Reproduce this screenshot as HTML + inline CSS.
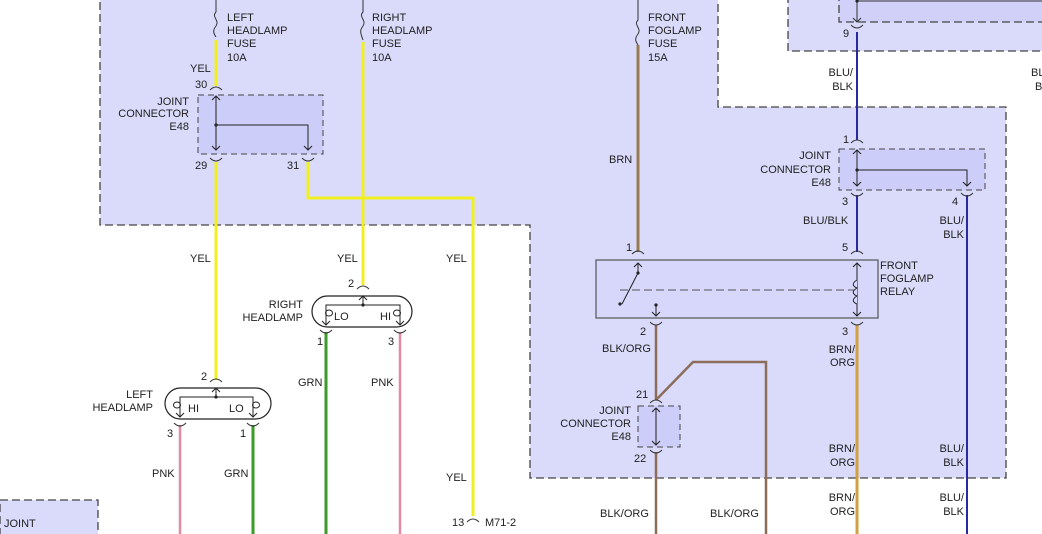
<!DOCTYPE html>
<html><head><meta charset="utf-8"><style>
html,body{margin:0;padding:0;background:#fff;}
svg{display:block;}
text{font-family:"Liberation Sans",sans-serif;font-size:11px;fill:#222;}
</style></head><body>
<svg width="1042" height="534" viewBox="0 0 1042 534" xmlns="http://www.w3.org/2000/svg">
<polygon points="100,-2 718,-2 718,107 1006,107 1006,478 530,478 530,225 100,225" fill="#dadbfa" stroke="#444" stroke-width="1.3" stroke-dasharray="8,4"/>
<rect x="788" y="-5" width="260" height="56" fill="#dadbfa" stroke="#444" stroke-width="1.3" stroke-dasharray="8,4"/>
<rect x="839" y="-5" width="210" height="27" fill="#d0d0f8" stroke="#444" stroke-width="1.3" stroke-dasharray="8,4"/>
<rect x="0" y="500" width="98" height="40" fill="#dadbfa" stroke="#444" stroke-width="1.3" stroke-dasharray="8,4"/>
<rect x="198" y="95" width="125" height="59" fill="#cccdf8" stroke="#444" stroke-dasharray="6,4"/>
<rect x="839" y="149" width="146" height="41" fill="#cccdf8" stroke="#444" stroke-dasharray="6,4"/>
<rect x="638" y="406" width="42" height="41" fill="#cccdf8" stroke="#444" stroke-dasharray="6,4"/>
<rect x="596" y="260" width="282" height="58" fill="#d6d7fa" stroke="#555" stroke-width="1.2"/>

<g fill="none" stroke-linecap="butt">
<path d="M216,0 V12 M216,12 c-5,5 4,8 0,14 c-4,5 -2,8 0,11" stroke="#333" stroke-width="1"/>
<line x1="216" y1="40" x2="216" y2="86" stroke="#f0f020" stroke-width="3"/>
<line x1="216" y1="162" x2="216" y2="380" stroke="#f0f020" stroke-width="3"/>
<path d="M308,162 V198 H473 V516" stroke="#f0f020" stroke-width="3"/>
<path d="M363,0 V12 c-5,5 4,8 0,14 c-4,5 -2,8 0,14" stroke="#333" stroke-width="1"/>
<line x1="363" y1="42" x2="363" y2="285" stroke="#f0f020" stroke-width="3"/>
<path d="M216,96 V150 M216,125 H308 V150" stroke="#222" stroke-width="1"/>
<path d="M212,100 l4,-4 4,4 M212,146 l4,4 4,-4 M304,146 l4,4 4,-4" stroke="#222"/>
<line x1="326" y1="332" x2="326" y2="534" stroke="#3a9a2a" stroke-width="3"/>
<line x1="400" y1="332" x2="400" y2="534" stroke="#e48aa0" stroke-width="2.5"/>
<line x1="180" y1="425" x2="180" y2="534" stroke="#e48aa0" stroke-width="2.5"/>
<line x1="253" y1="425" x2="253" y2="534" stroke="#3a9a2a" stroke-width="3"/>
<rect x="312" y="296" width="100" height="31" rx="15.5" stroke="#222" stroke-width="1.2"/>
<path d="M326,325 V305 H400 V325 M363,305 V296" stroke="#222"/>
<path d="M322,321 l4,4 4,-4 M396,321 l4,4 4,-4 M359,300 l4,-4 4,4" stroke="#222"/>
<ellipse cx="329" cy="313" rx="3.5" ry="3" stroke="#222"/><ellipse cx="397" cy="313" rx="3.5" ry="3" stroke="#222"/>
<rect x="165" y="388" width="106" height="31" rx="15.5" stroke="#222" stroke-width="1.2"/>
<path d="M180,417 V397 H253 V417 M216,397 V388" stroke="#222"/>
<path d="M176,413 l4,4 4,-4 M249,413 l4,4 4,-4 M212,392 l4,-4 4,4" stroke="#222"/>
<ellipse cx="177" cy="405" rx="3.5" ry="3" stroke="#222"/><ellipse cx="256" cy="405" rx="3.5" ry="3" stroke="#222"/>
<path d="M638,0 V20 c-5,5 4,8 0,14 c-4,5 -2,8 0,11" stroke="#333" stroke-width="1"/>
<line x1="638" y1="45" x2="638" y2="252" stroke="#9a7a50" stroke-width="3"/>
<line x1="857" y1="32" x2="857" y2="140" stroke="#2a2aa0" stroke-width="2"/>
<line x1="857" y1="195" x2="857" y2="252" stroke="#2a2aa0" stroke-width="2"/>
<line x1="967" y1="195" x2="967" y2="534" stroke="#2a2aa0" stroke-width="2"/>
<path d="M857,0 V22 M857,1 H1042" stroke="#333"/>
<path d="M853,18 l4,4 4,-4" stroke="#333"/>
<path d="M857,150 V186 M857,170 H967 V186" stroke="#222"/>
<path d="M853,154 l4,-4 4,4 M853,182 l4,4 4,-4 M963,182 l4,4 4,-4" stroke="#222"/>
<line x1="656" y1="325" x2="656" y2="400" stroke="#8b6d5a" stroke-width="2.5"/>
<line x1="656" y1="452" x2="656" y2="534" stroke="#8b6d5a" stroke-width="2.5"/>
<path d="M656,400 L693,362 H766 V534" stroke="#8b6d5a" stroke-width="2.5"/>
<line x1="857" y1="325" x2="857" y2="534" stroke="#d2a040" stroke-width="3"/>
<line x1="656" y1="408" x2="656" y2="445" stroke="#222"/>
<path d="M652,412 l4,-4 4,4 M652,441 l4,4 4,-4" stroke="#222"/>
<path d="M638,263 V273 L622,304" stroke="#222"/>
<path d="M634,267 l4,-4 4,4 M652,312 l4,4 4,-4 M853,267 l4,-4 4,4 M853,312 l4,4 4,-4" stroke="#222"/>
<path d="M620,290 H857" stroke="#555" stroke-dasharray="8,4"/>
<path d="M656,305 V316 M857,263 V316" stroke="#222"/>
<path d="M857,280 c-5,3 -5,6 0,8 c-5,3 -5,6 0,8 c-5,3 -5,6 0,8" stroke="#222" fill="#d6d7fa"/>
<g stroke="#333">
<path d="M210,90 q6,-6 12,0 M210,158 q6,6 12,0 M302,158 q6,6 12,0 M357,289 q6,-6 12,0 M320,330 q6,6 12,0 M394,330 q6,6 12,0 M210,382 q6,-6 12,0 M174,423 q6,6 12,0 M247,423 q6,6 12,0 M632,254 q6,-6 12,0 M650,322 q6,6 12,0 M851,254 q6,-6 12,0 M851,322 q6,6 12,0 M851,143 q6,-6 12,0 M851,193 q6,6 12,0 M961,193 q6,6 12,0 M851,25 q6,6 12,0 M650,403 q6,-6 12,0 M650,450 q6,6 12,0 M467,522 q6,-6 12,0"/>
</g>
</g>
<g fill="#222">
<circle cx="216" cy="125" r="1.6"/><circle cx="857" cy="170" r="1.6"/><circle cx="857" cy="1" r="1.6"/>
<circle cx="363" cy="305" r="1.6"/><circle cx="216" cy="397" r="1.6"/>
<circle cx="638" cy="273" r="1.6"/><circle cx="620" cy="304" r="1.6"/><circle cx="656" cy="305" r="1.6"/>
</g>
<g>
<text x="227" y="21">LEFT</text><text x="227" y="34">HEADLAMP</text><text x="227" y="47">FUSE</text><text x="227" y="61">10A</text>
<text x="372" y="21">RIGHT</text><text x="372" y="34">HEADLAMP</text><text x="372" y="47">FUSE</text><text x="372" y="61">10A</text>
<text x="190" y="72">YEL</text><text x="195" y="88">30</text>
<text x="189" y="105" text-anchor="end">JOINT</text><text x="189" y="117" text-anchor="end">CONNECTOR</text><text x="189" y="130" text-anchor="end">E48</text>
<text x="195" y="169">29</text><text x="287" y="169">31</text>
<text x="190" y="262">YEL</text><text x="337" y="262">YEL</text><text x="446" y="262">YEL</text>
<text x="348" y="287">2</text>
<text x="303" y="308" text-anchor="end">RIGHT</text><text x="303" y="321" text-anchor="end">HEADLAMP</text>
<text x="334" y="320">LO</text><text x="380" y="320">HI</text>
<text x="317" y="345">1</text><text x="388" y="345">3</text>
<text x="298" y="386">GRN</text><text x="371" y="386">PNK</text>
<text x="201" y="380">2</text>
<text x="153" y="398" text-anchor="end">LEFT</text><text x="153" y="411" text-anchor="end">HEADLAMP</text>
<text x="188" y="412">HI</text><text x="229" y="412">LO</text>
<text x="167" y="437">3</text><text x="240" y="437">1</text>
<text x="152" y="477">PNK</text><text x="224" y="477">GRN</text>
<text x="446" y="481">YEL</text>
<text x="452" y="526">13</text><text x="485" y="526">M71-2</text>
<text x="4" y="527">JOINT</text>
<text x="648" y="21">FRONT</text><text x="648" y="34">FOGLAMP</text><text x="648" y="47">FUSE</text><text x="648" y="61">15A</text>
<text x="609" y="163">BRN</text>
<text x="626" y="251">1</text>
<text x="843" y="37">9</text>
<text x="853" y="76" text-anchor="end">BLU/</text><text x="853" y="90" text-anchor="end">BLK</text>
<text x="1031" y="76">BL</text><text x="1035" y="90">B</text>
<text x="843" y="143">1</text>
<text x="831" y="159" text-anchor="end">JOINT</text><text x="831" y="173" text-anchor="end">CONNECTOR</text><text x="831" y="186" text-anchor="end">E48</text>
<text x="842" y="205">3</text><text x="952" y="205">4</text>
<text x="803" y="224">BLU/BLK</text>
<text x="964" y="224" text-anchor="end">BLU/</text><text x="964" y="238" text-anchor="end">BLK</text>
<text x="842" y="251">5</text>
<text x="880" y="269">FRONT</text><text x="880" y="282">FOGLAMP</text><text x="880" y="295">RELAY</text>
<text x="640" y="335">2</text><text x="842" y="335">3</text>
<text x="602" y="352">BLK/ORG</text>
<text x="855" y="353" text-anchor="end">BRN/</text><text x="855" y="366" text-anchor="end">ORG</text>
<text x="636" y="398">21</text>
<text x="631" y="414" text-anchor="end">JOINT</text><text x="631" y="427" text-anchor="end">CONNECTOR</text><text x="631" y="440" text-anchor="end">E48</text>
<text x="634" y="462">22</text>
<text x="855" y="452" text-anchor="end">BRN/</text><text x="855" y="466" text-anchor="end">ORG</text>
<text x="964" y="452" text-anchor="end">BLU/</text><text x="964" y="466" text-anchor="end">BLK</text>
<text x="600" y="517">BLK/ORG</text><text x="710" y="517">BLK/ORG</text>
<text x="855" y="501" text-anchor="end">BRN/</text><text x="855" y="515" text-anchor="end">ORG</text>
<text x="964" y="501" text-anchor="end">BLU/</text><text x="964" y="515" text-anchor="end">BLK</text>
</g>
</svg>
</body></html>
